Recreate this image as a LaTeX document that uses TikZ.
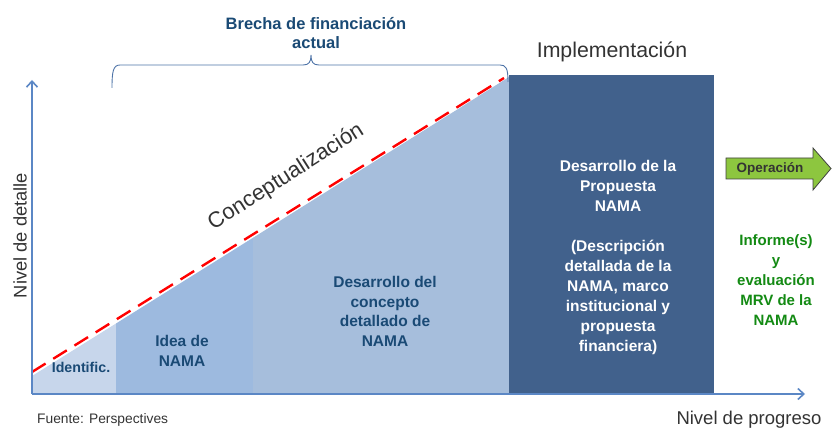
\documentclass[tikz,border=0pt]{standalone}
\usepackage{fontspec}
\setmainfont{Liberation Sans}
\usetikzlibrary{arrows.meta}
\definecolor{axisblue}{HTML}{5B87C5}
\definecolor{identc}{HTML}{C7D6EB}
\definecolor{ideac}{HTML}{9DBADF}
\definecolor{desc}{HTML}{A6BEDC}
\definecolor{darkc}{HTML}{41618C}
\definecolor{txtblue}{HTML}{1A4A75}
\definecolor{txtgreen}{HTML}{138A13}
\definecolor{opgreen}{HTML}{8DC63F}
\definecolor{graytxt}{HTML}{333333}
\tikzset{
  axisline/.style={draw=axisblue, line width=1.8pt, -{Straight Barb[length=6pt,width=11pt,line width=1.6pt]}},
  bluelbl/.style={text=txtblue, font=\bfseries\fontsize{15.5}{19.6}\selectfont, align=center, inner sep=0pt},
  whitelbl/.style={text=white, font=\bfseries\fontsize{15.5}{20}\selectfont, align=center, inner sep=0pt},
  greenlbl/.style={text=txtgreen, font=\bfseries\fontsize{15}{20}\selectfont, align=center, inner sep=0pt},
  biglbl/.style={text=graytxt, inner sep=0pt},
}
\begin{document}
\begin{tikzpicture}[x=1pt,y=-1pt]
\useasboundingbox (0,0) rectangle (832,430);
% fills
\fill[identc] (32,376) -- (116,323.5) -- (116,394) -- (32,394) -- cycle;
\fill[ideac] (116,323.5) -- (253,237.8) -- (253,394) -- (116,394) -- cycle;
\fill[desc] (253,237.8) -- (509,77) -- (509,394) -- (253,394) -- cycle;
\fill[darkc] (509,75) rectangle (714,394);
% dashed line
\coordinate (d0) at (32,372);
\coordinate (d1) at (504,78);
\draw[red, line width=2.4pt, dash pattern=on 16pt off 9pt] (d0) -- (d1);
% axes
\coordinate (o) at (32,394);
\coordinate (ytop) at (32,80);
\coordinate (xend) at (805,394);
\draw[axisline] (o) -- (ytop);
\draw[axisline] (o) -- (xend);
% brace
\coordinate (bl) at (112,88);
\coordinate (bm) at (311,55);
\coordinate (br) at (508,82);
\draw[draw=axisblue!85!black, line width=0.9pt]
  (bl) .. controls (112,72) and (113,65) .. (120,65) -- (303,65)
  .. controls (309,65) and (311,62) .. (bm)
  .. controls (311,62) and (313,65) .. (319,65) -- (500,65)
  .. controls (506,65) and (508,68) .. (br);
% texts
\node[text=txtblue, font=\bfseries\fontsize{16.5}{19}\selectfont, align=center, inner sep=0pt] (brecha) at (316,33) {Brecha de financiación\\actual};
\node[biglbl, font=\fontsize{21.3}{24}\selectfont] (impl) at (612,52) {Implementación};
\node[biglbl, font=\fontsize{22}{26}\selectfont, rotate=32.5] (concep) at (286,177) {Conceptualización};
\node[biglbl, font=\fontsize{18.3}{22}\selectfont, rotate=90] (nd) at (20,235.5) {Nivel de detalle};
\node[biglbl, font=\fontsize{18.5}{20}\selectfont] (np) at (749,420) {Nivel de progreso};
\node[biglbl, font=\fontsize{13.8}{14}\selectfont, anchor=west] (fuente) at (37,420) {Fuente: Perspectives};
\node[text=txtblue, font=\bfseries\fontsize{14.2}{16}\selectfont, inner sep=0pt] (ident) at (81,367) {Identific.};
\node[bluelbl] (idea) at (182,351) {Idea de\\NAMA};
\node[bluelbl] (desconc) at (385,311.5) {Desarrollo del\\concepto\\detallado de\\NAMA};
\node[whitelbl] (prop) at (618,257) {Desarrollo de la\\Propuesta\\NAMA\\[20pt](Descripción\\detallada de la\\NAMA, marco\\institucional y\\propuesta\\financiera)};
\node[greenlbl] (mrv) at (776,280) {Informe(s)\\y\\evaluación\\MRV de la\\NAMA};
% operation arrow
\draw[draw=black!75, line width=0.8pt, fill=opgreen]
  (726,158) -- (813,158) -- (813,148) -- (831,168.5) -- (813,190) -- (813,179) -- (726,179) -- cycle;
\node[text=black!80, font=\bfseries\fontsize{13.5}{14}\selectfont, inner sep=0pt] (oper) at (770,168.5) {Operación};
\end{tikzpicture}
\end{document}
